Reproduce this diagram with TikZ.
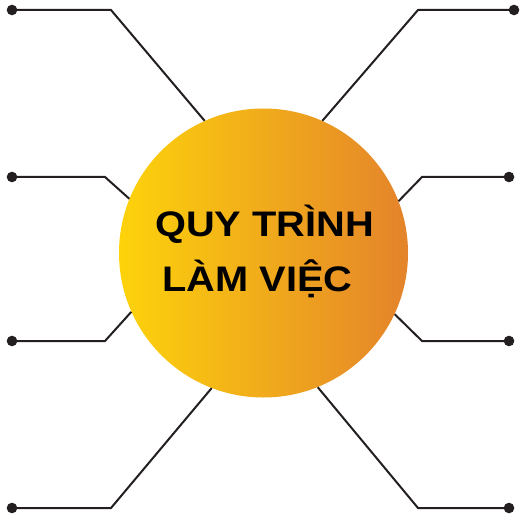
\documentclass[tikz,border=0pt]{standalone}
\usepackage{fontspec}
\setmainfont{Liberation Sans}
\usepackage{graphicx}
\definecolor{hubyellow}{HTML}{FDD30B}
\definecolor{huborange}{HTML}{E4832B}
\definecolor{linkgray}{HTML}{231F20}

\begin{document}
\begin{tikzpicture}[x=1pt,y=-1pt,
 hub/.style ={circle,draw=none,minimum size=289pt,inner sep=0pt,left color=hubyellow,right color=huborange},
 title/.style ={anchor=base,text=black,font=\fontsize{35.5}{40}\selectfont\bfseries},
 link/.style ={-,draw=linkgray,line width=2pt,line join=miter},
 dot/.style ={fill=linkgray}
 ]
\useasboundingbox (0,0) rectangle (526,521);
%draw the circle
\node[hub] (hub) at (263.5,253) {};
\node[title] (line1) at (264.5,236) {\scalebox{1.12}[1]{QUY TRÌNH}};
\node[title] (line2) at (257.5,291) {\scalebox{1.12}[1]{LÀM VIỆC}};
%end points and corners, left side
\coordinate (dotl1) at (12,10);   \coordinate (bendl1) at (111,10);
\coordinate (dotl2) at (12,177);  \coordinate (bendl2) at (105,177);
\coordinate (dotl3) at (12,341);  \coordinate (bendl3) at (105,341);
\coordinate (dotl4) at (12,508);  \coordinate (bendl4) at (111,508);
%end points and corners, right side
\coordinate (dotr1) at (514,10);  \coordinate (bendr1) at (418,10);
\coordinate (dotr2) at (509,177); \coordinate (bendr2) at (422,177);
\coordinate (dotr3) at (509,341); \coordinate (bendr3) at (422,341);
\coordinate (dotr4) at (509,508); \coordinate (bendr4) at (418,508);
%draw left links
\draw[link] (dotl1) -- (bendl1) -- (hub.114.5);
\draw[link] (dotl2) -- (bendl2) -- (hub.158);
\draw[link] (dotl3) -- (bendl3) -- (hub.204.5);
\draw[link] (dotl4) -- (bendl4) -- (hub.249.3);
%draw right links
\draw[link] (dotr1) -- (bendr1) -- (hub.66);
\draw[link] (dotr2) -- (bendr2) -- (hub.21.7);
\draw[link] (dotr3) -- (bendr3) -- (hub.335.3);
\draw[link] (dotr4) -- (bendr4) -- (hub.292);
%draw the dots
\fill[dot] (dotl1) circle (5.3);
\fill[dot] (dotl2) circle (5.3);
\fill[dot] (dotl3) circle (5.3);
\fill[dot] (dotl4) circle (5.3);
\fill[dot] (dotr1) circle (5.3);
\fill[dot] (dotr2) circle (5.3);
\fill[dot] (dotr3) circle (5.3);
\fill[dot] (dotr4) circle (5.3);
\end{tikzpicture}
\end{document}
